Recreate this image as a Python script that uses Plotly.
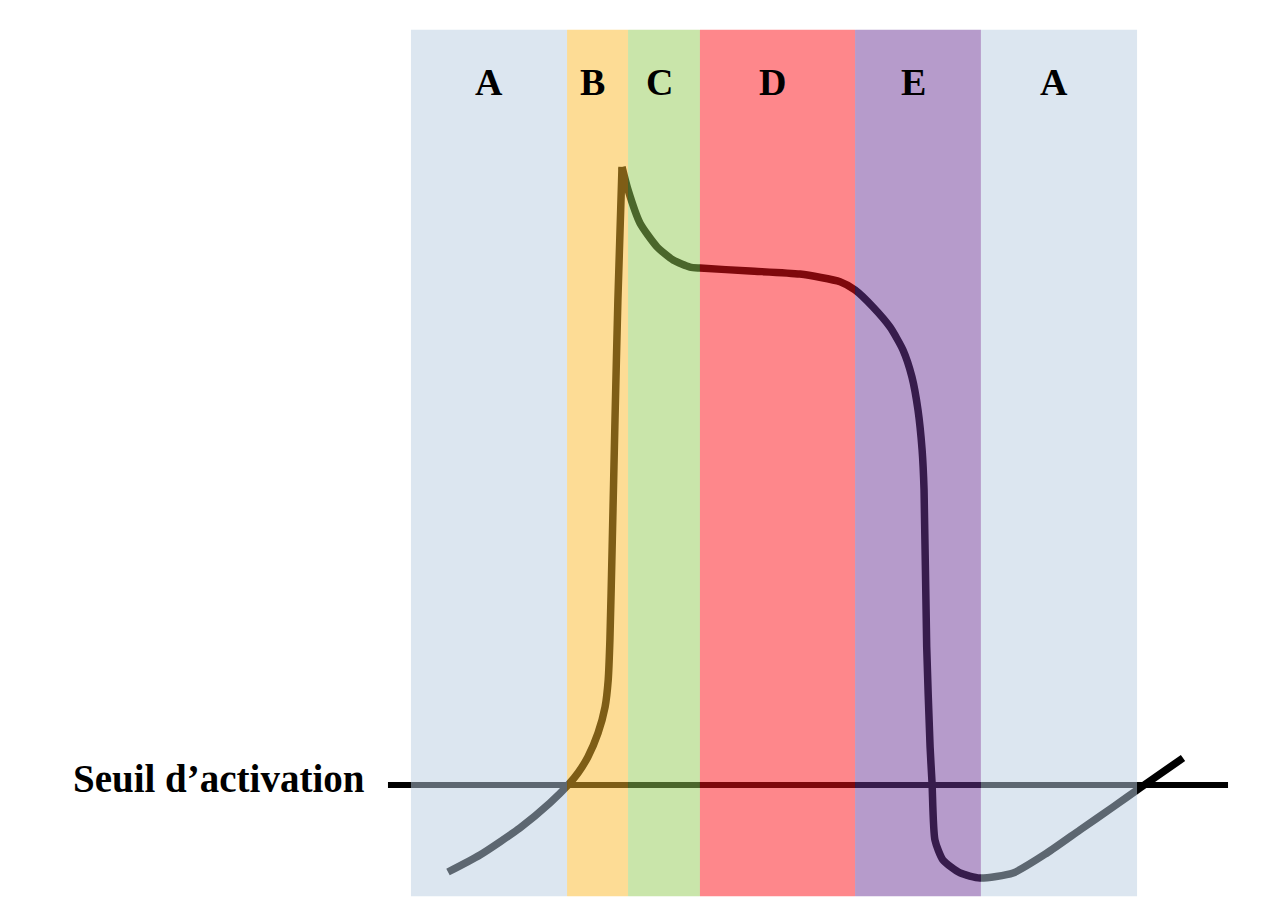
import plotly.graph_objects as go

# Phases of the cardiac action potential (time in ms)
phase_labels = ["A", "B", "C", "D", "E", "A"]
phase_start = [0, 64.5, 89.7, 119.4, 183.5, 235.5]
phase_end = [64.5, 89.7, 119.4, 183.5, 235.5, 300]
phase_colors = ["rgb(185,205,225)", "rgb(251,185,43)", "rgb(147,203,85)",
                "rgb(253,15,23)", "rgb(109,55,151)", "rgb(185,205,225)"]

# Membrane potential: depolarisation (up to the peak)
rise_ms = [15.3, 28.5, 45.0, 57.4, 64.9, 69.0, 73.1, 77.3, 80.2, 81.5, 82.2, 83.1,
           84.3, 85.5, 87.2]
rise_mv = [-72.67, -70.19, -66.26, -62.62, -60.0, -58.25, -55.92, -52.43, -48.64,
           -44.71, -38.88, -25.78, -6.85, 10.63, 30.0]
# Membrane potential: from the peak to the end
fall_ms = [87.2, 89.7, 94.6, 101.7, 108.3, 115.3, 119.4, 140.1, 160.7, 177.3, 183.5,
           190.9, 197.9, 203.3, 207.0, 209.5, 211.2, 212.0, 213.1, 214.5, 215.3, 216.5,
           219.8, 226.9, 235.1, 248.8, 262.8, 276.4, 290.1, 301.2, 319.0]
fall_mv = [30.0, 26.65, 21.84, 18.35, 16.45, 15.43, 15.28, 14.85, 14.41, 13.29, 12.08,
           9.61, 6.70, 3.35, -0.58, -5.39, -11.22, -17.04, -39.90, -54.47, -59.71,
           -68.01, -70.92, -72.81, -73.54, -72.81, -69.90, -66.55, -63.20, -60.44, -56.07]

threshold_mv = -60
threshold_span = [-9.5, 337.6]
band_bottom, band_top = -76.2, 50
label_y = 42
threshold_label = "Seuil d’activation"

fig = go.Figure()
fig.add_trace(go.Scatter(x=threshold_span, y=[threshold_mv, threshold_mv], mode="lines",
                         line=dict(color="black", width=6), hoverinfo="skip",
                         showlegend=False))
for xs, ys in ((rise_ms, rise_mv), (fall_ms, fall_mv)):
    fig.add_trace(go.Scatter(x=xs, y=ys, mode="lines",
                             line=dict(color="black", width=7.5, shape="spline",
                                       smoothing=0.6),
                             hoverinfo="skip", showlegend=False))

for s, e, c in zip(phase_start, phase_end, phase_colors):
    fig.add_shape(type="rect", xref="x", yref="y", x0=s, x1=e, y0=band_bottom, y1=band_top,
                  fillcolor=c, opacity=0.5, line=dict(width=0), layer="above")

for i, (lab, s, e) in enumerate(zip(phase_labels, phase_start, phase_end)):
    fig.add_annotation(x=(s + e) / 2, y=label_y, text=f"<b>{lab}</b>", showarrow=False,
                       xshift=-5 if i > 0 else 0, yshift=3,
                       font=dict(family="Liberation Serif", size=38, color="black"))

fig.add_annotation(x=threshold_span[0], y=threshold_mv, text=f"<b>{threshold_label}</b>",
                   showarrow=False, xanchor="right", xshift=-21, yshift=7,
                   font=dict(family="Liberation Serif", size=39, color="black"))

fig.update_layout(
    width=1274, height=912,
    margin=dict(l=0, r=0, t=0, b=0),
    paper_bgcolor="white", plot_bgcolor="white",
    xaxis=dict(range=[-166.5, 359.9], visible=False, fixedrange=True),
    yaxis=dict(range=[-79.66, 53.15], visible=False, fixedrange=True),
)
fig.write_html("out.html")
